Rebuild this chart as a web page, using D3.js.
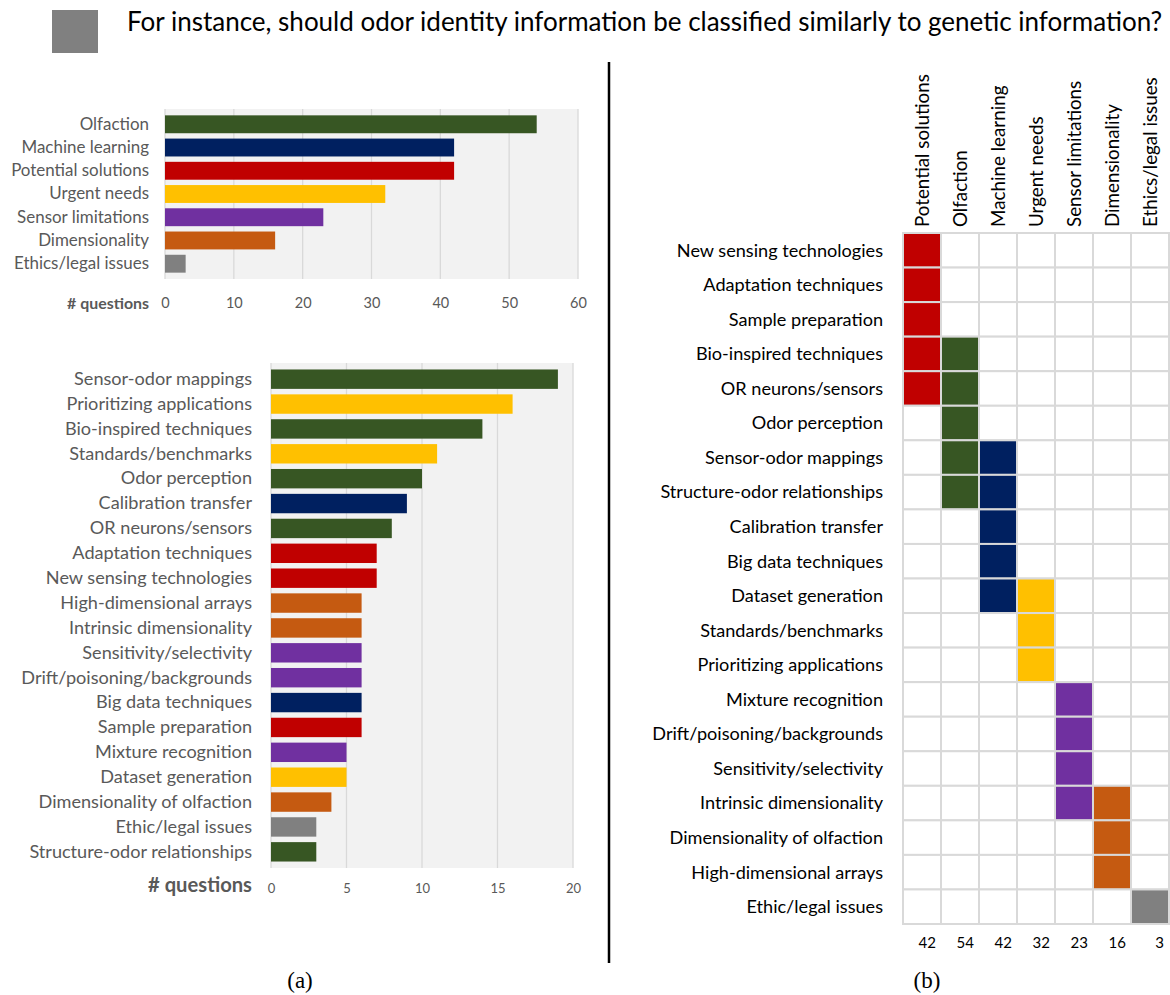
<!DOCTYPE html>
<html>
<head>
<meta charset="utf-8">
<script src="https://cdn.jsdelivr.net/npm/d3@7"></script>
<style>
  body { margin: 0; background: #fff; }
  svg { display: block; }
</style>
</head>
<body>
<div id="chart"></div>
<script>
// ---- data ----
const categories = ["Olfaction", "Machine learning", "Potential solutions", "Urgent needs",
    "Sensor limitations", "Dimensionality", "Ethics/legal issues"];
const categoryCounts = [54, 42, 42, 32, 23, 16, 3];
const categoryColors = ["#375623", "#002060", "#c00000", "#ffc000", "#7030a0", "#c55a11", "#808080"];

const subtopics = ["Sensor-odor mappings", "Prioritizing applications", "Bio-inspired techniques",
    "Standards/benchmarks", "Odor perception", "Calibration transfer", "OR neurons/sensors",
    "Adaptation techniques", "New sensing technologies", "High-dimensional arrays",
    "Intrinsic dimensionality", "Sensitivity/selectivity", "Drift/poisoning/backgrounds",
    "Big data techniques", "Sample preparation", "Mixture recognition", "Dataset generation",
    "Dimensionality of olfaction", "Ethic/legal issues", "Structure-odor relationships"];
const subtopicCounts = [19, 16, 14, 11, 10, 9, 8, 7, 7, 6, 6, 6, 6, 6, 6, 5, 5, 4, 3, 3];
const subtopicCategory = ["Olfaction", "Urgent needs", "Olfaction", "Urgent needs", "Olfaction",
    "Machine learning", "Olfaction", "Potential solutions", "Potential solutions", "Dimensionality",
    "Dimensionality", "Sensor limitations", "Sensor limitations", "Machine learning",
    "Potential solutions", "Sensor limitations", "Urgent needs", "Dimensionality",
    "Ethics/legal issues", "Olfaction"];

const matrixColumns = ["Potential solutions", "Olfaction", "Machine learning", "Urgent needs",
    "Sensor limitations", "Dimensionality", "Ethics/legal issues"];
const matrixRows = ["New sensing technologies", "Adaptation techniques", "Sample preparation",
    "Bio-inspired techniques", "OR neurons/sensors", "Odor perception", "Sensor-odor mappings",
    "Structure-odor relationships", "Calibration transfer", "Big data techniques",
    "Dataset generation", "Standards/benchmarks", "Prioritizing applications",
    "Mixture recognition", "Drift/poisoning/backgrounds", "Sensitivity/selectivity",
    "Intrinsic dimensionality", "Dimensionality of olfaction", "High-dimensional arrays",
    "Ethic/legal issues"];
const columnMembers = [
    ["New sensing technologies", "Adaptation techniques", "Sample preparation", "Bio-inspired techniques", "OR neurons/sensors"],
    ["Bio-inspired techniques", "OR neurons/sensors", "Odor perception", "Sensor-odor mappings", "Structure-odor relationships"],
    ["Sensor-odor mappings", "Structure-odor relationships", "Calibration transfer", "Big data techniques", "Dataset generation"],
    ["Dataset generation", "Standards/benchmarks", "Prioritizing applications"],
    ["Mixture recognition", "Drift/poisoning/backgrounds", "Sensitivity/selectivity", "Intrinsic dimensionality"],
    ["Intrinsic dimensionality", "Dimensionality of olfaction", "High-dimensional arrays"],
    ["Ethic/legal issues"]
];
const columnTotals = [42, 54, 42, 32, 23, 16, 3];

const titleText = "For instance, should odor identity information be classified similarly to genetic information?";

// ---- style ----
const width = 1170;
const height = 995;
const labelFont = "Lato, 'Open Sans', sans-serif";
const serifFont = "'Liberation Serif', 'DejaVu Serif', serif";
const greyText = "#595959";
const gridColor = "#d9d9d9";
const plotBg = "#f2f2f2";

const color = d3.scaleOrdinal().domain(categories).range(categoryColors);

// shrink/grow a group of labels so that the widest one spans `target` px
const fitWidth = (sel, target) => {
    let widest = 0;
    sel.each(function () { widest = Math.max(widest, this.getComputedTextLength()); });
    const size = parseFloat(sel.attr('font-size'));
    sel.attr('font-size', (size * target / widest).toFixed(2));
};

const svg = d3.select('#chart')
    .append('svg')
    .attr('width', width)
    .attr('height', height);

svg.append('rect').attr('width', width).attr('height', height).attr('fill', '#fff');

// ---- header ----
svg.append('rect')
    .attr('x', 52).attr('y', 10)
    .attr('width', 46).attr('height', 43)
    .attr('fill', '#808080');

const title = svg.append('text')
    .attr('x', 127).attr('y', 31)
    .attr('font-family', labelFont)
    .attr('font-size', 22)
    .attr('fill', '#000')
    .text(titleText);
fitWidth(title, 1035);

// ---- horizontal bar chart helper ----
const drawBars = (opts) => {
    const x = d3.scaleLinear().domain([0, opts.max]).range([opts.x0, opts.x1]);
    const y = d3.scaleBand().domain(opts.names).range([opts.y0, opts.y1]).padding(opts.padding);
    const g = svg.append('g');

    g.append('rect')
        .attr('x', x(0)).attr('y', opts.y0 - 1)
        .attr('width', x(opts.max) - x(0)).attr('height', opts.y1 - opts.y0 + 2)
        .attr('fill', plotBg);

    g.selectAll('.grid')
        .data(x.ticks(opts.tickCount))
        .join('line')
        .attr('class', 'grid')
        .attr('x1', d => x(d)).attr('x2', d => x(d))
        .attr('y1', opts.y0 - 1).attr('y2', opts.y1 + 1)
        .attr('stroke', gridColor)
        .attr('stroke-width', 1.3);

    g.selectAll('.bar')
        .data(opts.names.map((n, i) => ({ name: n, count: opts.counts[i], cat: opts.cats[i] })))
        .join('rect')
        .attr('class', 'bar')
        .attr('x', x(0))
        .attr('y', d => y(d.name))
        .attr('width', d => x(d.count) - x(0))
        .attr('height', y.bandwidth())
        .attr('fill', d => color(d.cat));

    const yAxis = g.append('g')
        .attr('transform', `translate(${x(0)},0)`)
        .call(d3.axisLeft(y).tickSize(0).tickPadding(opts.labelGap))
        .call(a => a.select('.domain').remove());
    const labels = yAxis.selectAll('.tick text')
        .attr('font-family', labelFont)
        .attr('font-size', 14)
        .attr('fill', greyText);
    fitWidth(labels, opts.labelWidth);

    const xAxis = g.append('g')
        .attr('transform', `translate(0,${opts.tickY})`)
        .call(d3.axisBottom(x).ticks(opts.tickCount).tickSize(0).tickPadding(0))
        .call(a => a.select('.domain').remove());
    xAxis.selectAll('.tick text')
        .attr('font-family', labelFont)
        .attr('font-size', opts.tickSize)
        .attr('fill', greyText)
        .attr('dy', opts.tickDy);

    const axisTitle = g.append('text')
        .attr('x', x(0) - opts.labelGap)
        .attr('y', opts.tickY)
        .attr('dy', '0.35em')
        .attr('text-anchor', 'end')
        .attr('font-family', labelFont)
        .attr('font-weight', 'bold')
        .attr('font-size', 14)
        .attr('fill', greyText)
        .text('# questions');
    fitWidth(axisTitle, opts.titleWidth);
};

// top: questions per category
drawBars({
    names: categories, counts: categoryCounts, cats: categories,
    max: 60, tickCount: 6,
    x0: 165, x1: 578, y0: 110, y1: 278, padding: 0.23,
    labelGap: 16, labelWidth: 138, tickY: 303, tickSize: 14.5, tickDy: '0.35em',
    titleWidth: 82
});

// bottom: questions per subtopic
drawBars({
    names: subtopics, counts: subtopicCounts, cats: subtopicCategory,
    max: 20, tickCount: 4,
    x0: 271, x1: 573, y0: 364, y1: 867, padding: 0.22,
    labelGap: 19, labelWidth: 231, tickY: 885, tickSize: 13, tickDy: '0.6em',
    titleWidth: 104
});

// ---- divider ----
svg.append('line')
    .attr('x1', 609).attr('x2', 609)
    .attr('y1', 62).attr('y2', 963)
    .attr('stroke', '#000')
    .attr('stroke-width', 2.5);

// ---- membership matrix ----
const mx = d3.scaleBand().domain(matrixColumns).range([903, 1169]);
const my = d3.scaleBand().domain(matrixRows).range([233, 924]);

const cells = [];
matrixRows.forEach(r => {
    matrixColumns.forEach((c, ci) => {
        cells.push({ row: r, col: c, on: columnMembers[ci].includes(r) });
    });
});

const mg = svg.append('g');
mg.selectAll('.cell')
    .data(cells)
    .join('rect')
    .attr('class', 'cell')
    .attr('x', d => mx(d.col))
    .attr('y', d => my(d.row))
    .attr('width', mx.bandwidth())
    .attr('height', my.bandwidth())
    .attr('fill', d => d.on ? color(d.col) : '#fff')
    .attr('stroke', gridColor)
    .attr('stroke-width', 2);

const rowLabels = mg.selectAll('.row-label')
    .data(matrixRows)
    .join('text')
    .attr('class', 'row-label')
    .attr('x', 883)
    .attr('y', d => my(d) + my.bandwidth() / 2)
    .attr('dy', '0.35em')
    .attr('text-anchor', 'end')
    .attr('font-family', labelFont)
    .attr('font-size', 15)
    .attr('fill', '#000')
    .text(d => d);
fitWidth(rowLabels, 231);

const colLabels = mg.selectAll('.col-label')
    .data(matrixColumns)
    .join('text')
    .attr('class', 'col-label')
    .attr('transform', d => `translate(${mx(d) + mx.bandwidth() / 2},227) rotate(-90)`)
    .attr('dy', '0.35em')
    .attr('font-family', labelFont)
    .attr('font-size', 15)
    .attr('fill', '#000')
    .text(d => d);
fitWidth(colLabels, 153);

mg.selectAll('.total')
    .data(matrixColumns.map((c, i) => ({ col: c, total: columnTotals[i] })))
    .join('text')
    .attr('class', 'total')
    .attr('x', d => mx(d.col) + mx.bandwidth() - 5)
    .attr('y', 943)
    .attr('dy', '0.35em')
    .attr('text-anchor', 'end')
    .attr('font-family', labelFont)
    .attr('font-size', 15)
    .attr('fill', '#000')
    .text(d => d.total);

// ---- captions ----
svg.selectAll('.caption')
    .data([{ t: '(a)', x: 300 }, { t: '(b)', x: 927 }])
    .join('text')
    .attr('class', 'caption')
    .attr('x', d => d.x)
    .attr('y', 988)
    .attr('text-anchor', 'middle')
    .attr('font-family', serifFont)
    .attr('font-size', 23)
    .attr('fill', '#000')
    .text(d => d.t);
</script>
</body>
</html>
